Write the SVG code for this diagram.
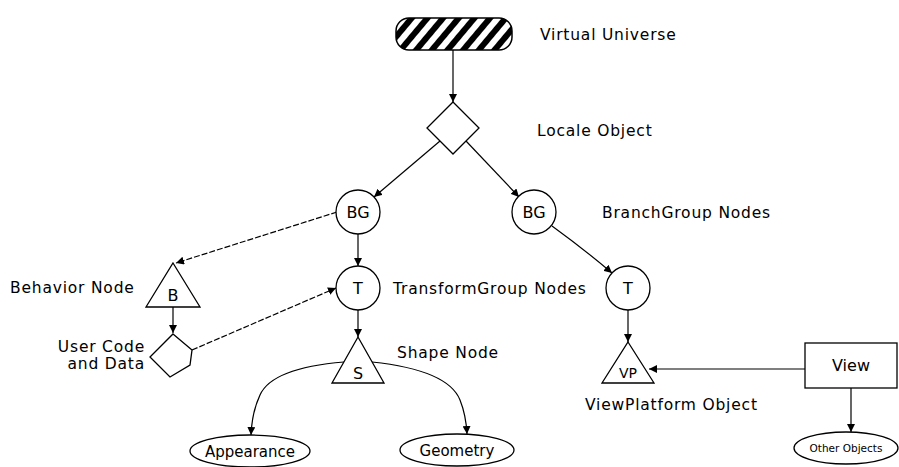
<svg xmlns="http://www.w3.org/2000/svg" width="899" height="467" viewBox="0 0 899 467">
<style>
.shape{fill:#fff;stroke:#000;stroke-width:1.3}
.lbl{font-family:"DejaVu Sans","Liberation Sans",Arial,sans-serif;font-size:15.5px;letter-spacing:0.8px;fill:#000}
.in{font-family:"DejaVu Sans","Liberation Sans",Arial,sans-serif;font-size:16px;fill:#000;text-anchor:middle}
.c{fill:none;stroke:#000;stroke-width:1.2;marker-end:url(#ah)}
.d{stroke-dasharray:6 2}
</style>
<defs>
<marker id="ah" viewBox="0 0 10 10" refX="10" refY="5" markerWidth="8" markerHeight="8" markerUnits="userSpaceOnUse" orient="auto">
<path d="M0,0 L10,5 L0,10 z" fill="#000"/>
</marker>
<pattern id="hatch" patternUnits="userSpaceOnUse" width="12" height="12" patternTransform="rotate(40)">
<rect width="12" height="12" fill="#fff"/>
<rect width="6" height="12" fill="#000"/>
</pattern>
</defs>
<rect width="899" height="467" fill="#fff"/>

<g id="connectors">
<path class="c" d="M453,50 L453,102"/>
<path class="c" d="M440,141 L374,197"/>
<path class="c" d="M466,141 L519,197"/>
<path class="c" d="M358,234 L358,266"/>
<path class="c d" d="M337,212 L176,263"/>
<path class="c" d="M173,307 L173,333"/>
<path class="c d" d="M192,350 L336,288"/>
<path class="c" d="M358,310 L358,337"/>
<path class="c" d="M552,226 Q585,250 612,273"/>
<path class="c" d="M628,310 L628,342"/>
<path class="c" d="M805,369 L649,369"/>
<path class="c" d="M851,388 L851,432"/>
<path class="c" d="M344,362 Q272,368 260,395 Q252,412 251,435"/>
<path class="c" d="M372,362 Q448,370 460,400 Q466,415 467,434"/>
</g>

<g id="virtual-universe">
<rect x="396" y="18" width="116" height="32" rx="13" ry="13" fill="url(#hatch)" stroke="#000" stroke-width="1.5"/>
<text class="lbl" x="540" y="40">Virtual Universe</text>
</g>

<g id="locale">
<polygon class="shape" points="453,102 479,128 453,154 427,128"/>
<text class="lbl" x="537" y="136">Locale Object</text>
</g>

<g id="bg-left">
<circle class="shape" cx="358" cy="212" r="22"/>
<text class="in" x="358" y="218">BG</text>
</g>

<g id="bg-right">
<circle class="shape" cx="534" cy="212" r="22"/>
<text class="in" x="534" y="218">BG</text>
<text class="lbl" x="602" y="218">BranchGroup Nodes</text>
</g>

<g id="t-left">
<circle class="shape" cx="358" cy="288" r="22"/>
<text class="in" x="358" y="294">T</text>
<text class="lbl" x="393" y="294">TransformGroup Nodes</text>
</g>

<g id="t-right">
<circle class="shape" cx="628" cy="288" r="22"/>
<text class="in" x="628" y="294">T</text>
</g>

<g id="behavior">
<polygon class="shape" points="173,263 200,307 146,307"/>
<text class="in" x="173" y="301">B</text>
<text class="lbl" x="10" y="293">Behavior Node</text>
</g>

<g id="user-code">
<polygon class="shape" points="173,334 192,350 190,365 170,377 150,357"/>
<text class="lbl" x="145" y="352" text-anchor="end">User Code</text>
<text class="lbl" x="145" y="369" text-anchor="end">and Data</text>
</g>

<g id="shape-node">
<polygon class="shape" points="358,337 384,383 332,383"/>
<text class="in" x="358" y="379">S</text>
<text class="lbl" x="397" y="358">Shape Node</text>
</g>

<g id="appearance">
<ellipse class="shape" cx="250" cy="451" rx="60" ry="16"/>
<text class="in" x="250" y="457" style="font-size:15px">Appearance</text>
</g>

<g id="geometry">
<ellipse class="shape" cx="457" cy="450" rx="57" ry="16"/>
<text class="in" x="457" y="456" style="font-size:15px">Geometry</text>
</g>

<g id="view-platform">
<polygon class="shape" points="628,342 654,383 602,383"/>
<text class="in" x="628" y="378" style="font-size:14px">VP</text>
<text class="lbl" x="585" y="410">ViewPlatform Object</text>
</g>

<g id="view">
<rect class="shape" x="805" y="343" width="92" height="45"/>
<text class="in" x="851" y="371">View</text>
</g>

<g id="other-objects">
<ellipse class="shape" cx="846" cy="448" rx="52" ry="16"/>
<text class="in" x="846" y="452" style="font-size:10.5px">Other Objects</text>
</g>
</svg>
